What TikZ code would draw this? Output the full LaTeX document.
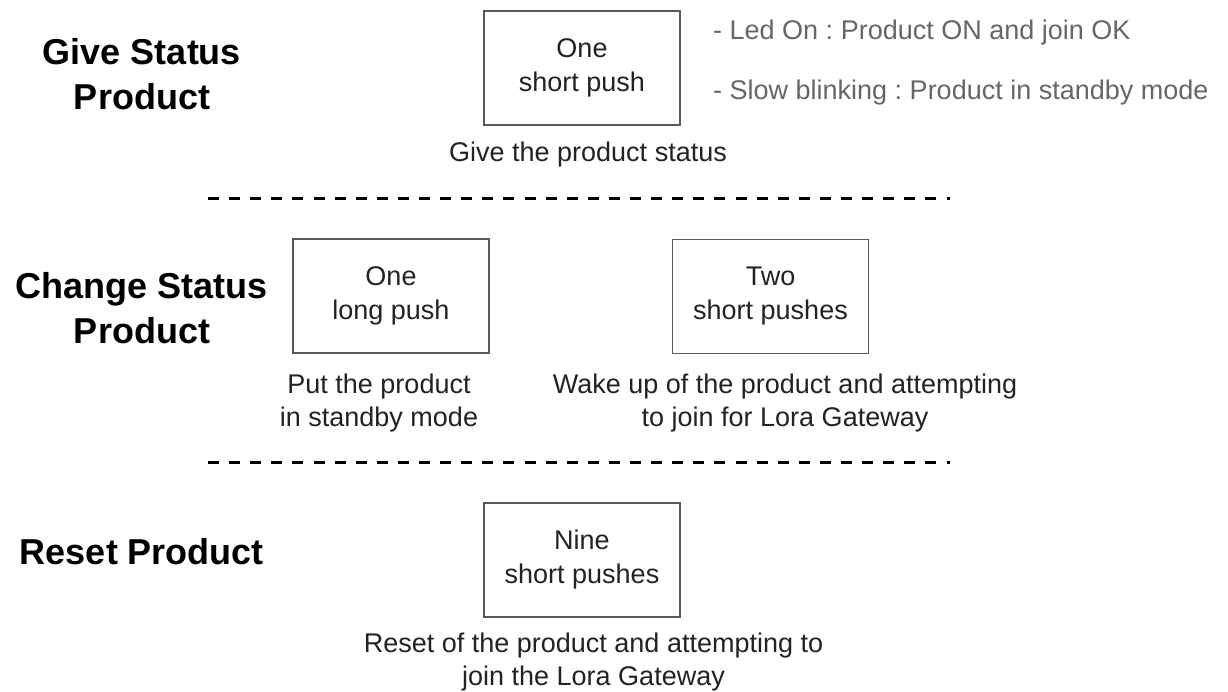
\documentclass[tikz,border=0pt]{standalone}
\usepackage{fontspec}
\setmainfont{Liberation Sans}
\frenchspacing
\definecolor{boxline}{HTML}{595959}
\definecolor{bodytext}{HTML}{222222}
\definecolor{notegray}{HTML}{666666}
\begin{document}
\begin{tikzpicture}[x=1pt,y=-1pt,
  heading/.style={align=center,font=\fontsize{36}{45}\selectfont\bfseries,text=black,inner sep=0pt},
  pushbox/.style={draw=boxline,line width=1.4pt,minimum width=196pt,minimum height=114pt,inner sep=0pt,align=center,font=\fontsize{27}{34}\selectfont,text=bodytext},
  caption/.style={align=center,font=\fontsize{27}{33}\selectfont,text=bodytext,inner sep=0pt},
  note/.style={anchor=west,font=\fontsize{27}{32}\selectfont,text=notegray,inner sep=0pt},
  sepline/.style={draw=black,line width=3pt,dash pattern=on 11pt off 10.1pt}
]
\useasboundingbox (0,0) rectangle (1228,692);

% headings
\node[heading] (h1) at (142,74) {Give Status\\Product};
\node[heading] (h2) at (142,308) {Change Status\\Product};
\node[heading] (h3) at (142,552) {Reset Product};

% boxes
\node[pushbox] (b1) at (582,68) {One\\short push};
\node[pushbox] (b2) at (391,296) {One\\long push};
\node[pushbox] (b3) at (770.5,296.5) {Two\\short pushes};
\node[pushbox] (b4) at (582,560) {Nine\\short pushes};

% captions
\node[caption] (c1) at (588,155) {Give the product status};
\node[caption] (c2) at (379,403) {Put the product\\in standby mode};
\node[caption] (c3) at (785,403) {Wake up of the product and attempting\\to join for Lora Gateway};
\node[caption] (c4) at (593.5,662) {Reset of the product and attempting to\\join the Lora Gateway};

% notes
\node[note] (n1) at (713,33) {- Led On : Product ON and join OK};
\node[note] (n2) at (713,93) {- Slow blinking : Product in standby mode};

% separators
\coordinate (s1a) at (208,199);
\coordinate (s1b) at (950,199);
\coordinate (s2a) at (208,462);
\coordinate (s2b) at (950,462);
\draw[sepline] (s1a) -- (s1b);
\draw[sepline] (s2a) -- (s2b);
\end{tikzpicture}
\end{document}
